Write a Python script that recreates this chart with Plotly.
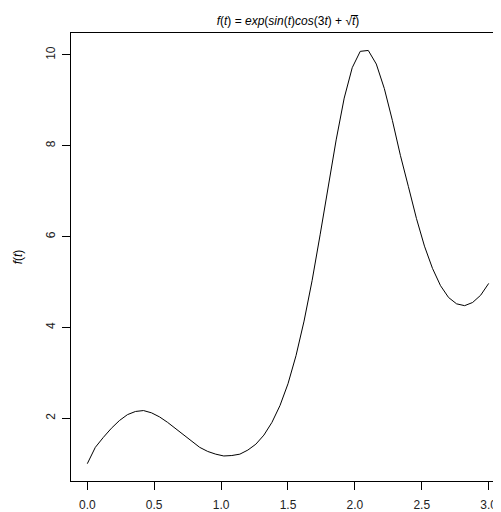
"""
Curve plot of f(t) = exp(sin(t)cos(3t) + sqrt(t)), R base-graphics look
"""
import plotly.graph_objs as go

# values
t_values = [0.00, 0.06, 0.12, 0.18, 0.24, 0.30, 0.36, 0.42, 0.48, 0.54,
            0.60, 0.66, 0.72, 0.78, 0.84, 0.90, 0.96, 1.02, 1.08, 1.14,
            1.20, 1.26, 1.32, 1.38, 1.44, 1.50, 1.56, 1.62, 1.68, 1.74,
            1.80, 1.86, 1.92, 1.98, 2.04, 2.10, 2.16, 2.22, 2.28, 2.34,
            2.40, 2.46, 2.52, 2.58, 2.64, 2.70, 2.76, 2.82, 2.88, 2.94,
            3.00]
f_values = [1.00, 1.36, 1.58, 1.78, 1.95, 2.08, 2.15, 2.17, 2.12, 2.03,
            1.91, 1.77, 1.62, 1.48, 1.36, 1.27, 1.21, 1.17, 1.18, 1.21,
            1.30, 1.43, 1.63, 1.91, 2.28, 2.76, 3.38, 4.14, 5.03, 6.04,
            7.10, 8.13, 9.05, 9.72, 10.08, 10.10, 9.80, 9.26, 8.56, 7.79,
            7.10, 6.40, 5.79, 5.30, 4.92, 4.66, 4.52, 4.48, 4.55, 4.71,
            4.97]

x_ticks = [0.0, 0.5, 1.0, 1.5, 2.0, 2.5, 3.0]
x_tick_labels = ["0.0", "0.5", "1.0", "1.5", "2.0", "2.5", "3.0"]
y_ticks = [2, 4, 6, 8, 10]
y_tick_labels = ["2", "4", "6", "8", "10"]

FONT = "Liberation Sans, Arial, Helvetica, sans-serif"

# the page body adds an 8px margin, so the figure is sized to fit the window
fig = go.Figure(data=[
    go.Scatter(
        x=t_values,
        y=f_values,
        mode="lines",
        line=dict(color="black", width=1),
        hoverinfo="skip",
    )])

fig.update_layout(
    width=493,
    height=504,
    margin=dict(l=63, r=0, t=25, b=31, autoexpand=False),
    paper_bgcolor="white",
    plot_bgcolor="white",
    showlegend=False,
    font=dict(family=FONT, size=12, color="black"),
    title={'text': "<i>f</i>(<i>t</i>) = <i>exp</i>(<i>sin</i>(<i>t</i>)<i>cos</i>(3<i>t</i>) + √<i>t̅</i>)",
           'x': 280 / 493, 'xanchor': 'center', 'xref': 'container',
           'y': 1 - 13 / 504, 'yanchor': 'middle', 'yref': 'container',
           'automargin': False,
           'font': dict(family=FONT, size=12, color="black")},
)

fig.update_xaxes(
    range=[-0.1218, 3.092],
    automargin=False,
    tickvals=x_ticks,
    ticktext=x_tick_labels,
    ticks="outside",
    ticklen=8,
    tickwidth=1,
    tickcolor="black",
    showline=True,
    linecolor="black",
    linewidth=1,
    mirror=True,
    showgrid=False,
    zeroline=False,
    ticklabelstandoff=5,
    tickfont=dict(family=FONT, size=12, color="#222222"),
)
fig.update_yaxes(
    range=[0.619, 10.484],
    automargin=False,
    tickvals=y_ticks,
    ticktext=y_tick_labels,
    tickangle=-90,
    ticks="outside",
    ticklen=8,
    tickwidth=1,
    tickcolor="black",
    showline=True,
    linecolor="black",
    linewidth=1,
    showgrid=False,
    zeroline=False,
    ticklabelstandoff=2,
    tickfont=dict(family=FONT, size=12, color="#222222"),
    title=dict(text="<i>f</i>(<i>t</i>)", standoff=19,
               font=dict(family=FONT, size=12, color="black")),
)

fig.write_html("out.html")
